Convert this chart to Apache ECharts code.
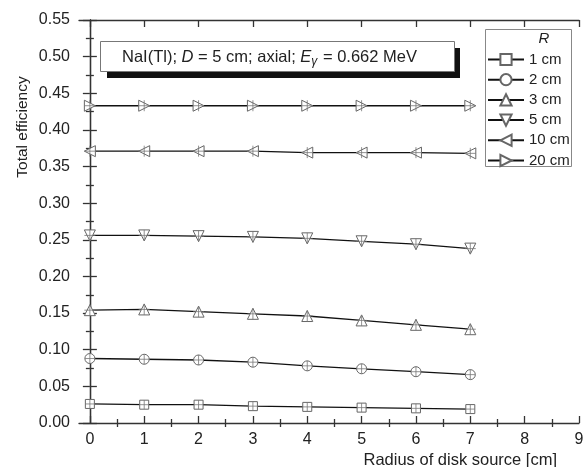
<!DOCTYPE html>
<html>
<head>
<meta charset="utf-8">
<script src="https://cdn.jsdelivr.net/npm/echarts@6/dist/echarts.min.js"></script>
<style>
  html, body { margin: 0; padding: 0; background: #fff; }
  #chart { width: 588px; height: 467px; }
</style>
</head>
<body>
<div id="chart"></div>
<script>
// radius of disk source [cm]
var radius = [0, 1, 2, 3, 4, 5, 6, 7];
var seriesNames = ['1 cm', '2 cm', '3 cm', '5 cm', '10 cm', '20 cm'];
// total efficiency for each R
var eff1 = [0.026, 0.025, 0.025, 0.023, 0.022, 0.021, 0.020, 0.019];
var eff2 = [0.088, 0.087, 0.086, 0.083, 0.078, 0.074, 0.070, 0.066];
var eff3 = [0.154, 0.155, 0.152, 0.149, 0.146, 0.140, 0.134, 0.128];
var eff5 = [0.256, 0.256, 0.255, 0.254, 0.252, 0.248, 0.244, 0.238];
var eff10 = [0.371, 0.371, 0.371, 0.371, 0.369, 0.369, 0.369, 0.368];
var eff20 = [0.433, 0.433, 0.433, 0.433, 0.433, 0.433, 0.433, 0.433];
var xTicks = [0, 1, 2, 3, 4, 5, 6, 7, 8, 9];
var xMinorTicks = [0.5, 1.5, 2.5, 3.5, 4.5, 5.5, 6.5, 7.5, 8.5];

var allEff = [eff1, eff2, eff3, eff5, eff10, eff20];
var symbols = ['rect', 'circle', 'triangle', 'triangle', 'triangle', 'triangle'];
var rotates = [0, 0, 0, 180, 90, -90];
var sizes = [9, 10, 11, 11, 11, 11];

var font = 'Liberation Sans, Arial, sans-serif';
var axisColor = '#333';

var pairs = function (ys) {
    var res = [];
    for (var i = 0; i < radius.length; i++) {
        res.push([radius[i], ys[i]]);
    }
    return res;
};

var series = [];
for (var k = 0; k < seriesNames.length; k++) {
    series.push({
        name: seriesNames[k],
        type: 'line',
        data: pairs(allEff[k]),
        symbol: symbols[k],
        symbolSize: sizes[k],
        symbolRotate: rotates[k],
        showAllSymbol: true,
        lineStyle: { color: '#111', width: 1.3 },
        itemStyle: { color: '#fff', borderColor: '#666', borderWidth: 1 },
        z: 3
    });
    // the little "+" drawn over every marker
    series.push({
        name: seriesNames[k] + ' +',
        type: 'scatter',
        data: pairs(allEff[k]),
        symbol: 'path://M5,0L5,10M0,5L10,5',
        symbolSize: sizes[k],
        silent: true,
        itemStyle: { color: 'none', borderColor: '#777', borderWidth: 1 },
        z: 4
    });
}

var xBase = {
    type: 'value',
    min: -0.2,
    max: 9,
    splitLine: { show: false },
    axisLine: { show: true, onZero: false, lineStyle: { color: axisColor, width: 1.3 } }
};

var option = {
    animation: false,
    backgroundColor: '#fff',
    textStyle: { fontFamily: font },
    grid: { left: 79, right: 9, top: 20, bottom: 44 },
    legend: {
        data: seriesNames,
        orient: 'vertical',
        left: 487,
        top: 52,
        padding: 0,
        itemWidth: 36,
        itemHeight: 14,
        itemGap: 5.2,
        selectedMode: false,
        textStyle: { fontFamily: font, fontSize: 15, color: '#222', lineHeight: 14 }
    },
    xAxis: [
        Object.assign({}, xBase, {
            position: 'bottom',
            axisTick: { inside: true, length: 7, customValues: xTicks, lineStyle: { color: axisColor, width: 1.3 } },
            axisLabel: { customValues: xTicks, fontFamily: font, fontSize: 16, color: '#222', margin: 9 }
        }),
        Object.assign({}, xBase, {
            position: 'bottom',
            axisLine: { show: false },
            axisTick: { inside: true, length: 4, customValues: xMinorTicks, lineStyle: { color: axisColor, width: 1.3 } },
            axisLabel: { show: false }
        }),
        Object.assign({}, xBase, {
            position: 'top',
            axisTick: { inside: true, length: 7, customValues: xTicks, lineStyle: { color: axisColor, width: 1.3 } },
            axisLabel: { show: false }
        }),
        Object.assign({}, xBase, {
            position: 'top',
            axisLine: { show: false },
            axisTick: { inside: true, length: 4, customValues: xMinorTicks, lineStyle: { color: axisColor, width: 1.3 } },
            axisLabel: { show: false }
        })
    ],
    yAxis: [
        {
            type: 'value',
            position: 'left',
            min: 0,
            max: 0.55,
            interval: 0.05,
            splitLine: { show: false },
            axisLine: { show: true, lineStyle: { color: axisColor, width: 1.3 } },
            axisTick: { inside: true, length: 7, lineStyle: { color: axisColor, width: 1.3 } },
            minorTick: { show: true, splitNumber: 2, length: 4, lineStyle: { color: axisColor, width: 1.3 } },
            axisLabel: {
                fontFamily: font, fontSize: 16, color: '#222', margin: 9,
                formatter: function (v) { return v.toFixed(2); }
            }
        },
        {
            type: 'value',
            position: 'right',
            min: 0,
            max: 0.55,
            interval: 0.05,
            splitLine: { show: false },
            axisLine: { show: true, lineStyle: { color: axisColor, width: 1.3 } },
            axisTick: { inside: true, length: 7, lineStyle: { color: axisColor, width: 1.3 } },
            minorTick: { show: true, splitNumber: 2, length: 4, lineStyle: { color: axisColor, width: 1.3 } },
            axisLabel: { show: false }
        }
    ],
    graphic: [
        // legend frame and title
        {
            type: 'rect', z: 1,
            shape: { x: 485.5, y: 29.5, width: 86, height: 137 },
            style: { fill: '#fff', stroke: '#888', lineWidth: 1 }
        },
        {
            type: 'text', z: 5, x: 544, y: 39,
            style: { text: 'R', fontFamily: font, fontSize: 15, fontStyle: 'italic', fill: '#222', align: 'center', verticalAlign: 'middle' }
        },
        // annotation box with its shadow
        {
            type: 'rect', z: 1,
            shape: { x: 107, y: 48, width: 353, height: 30 },
            style: { fill: '#111' }
        },
        {
            type: 'rect', z: 2,
            shape: { x: 100.5, y: 41.5, width: 354, height: 30 },
            style: { fill: '#fff', stroke: '#777', lineWidth: 1 }
        },
        {
            type: 'text', z: 5, x: 122, y: 57,
            style: {
                text: 'NaI(Tl); {i|D} = 5 cm; axial; {i|E}{sub|γ} = 0.662 MeV',
                fontFamily: font, fontSize: 16.5, fill: '#222', verticalAlign: 'middle',
                rich: {
                    i: { fontFamily: font, fontSize: 16.5, fontStyle: 'italic', fill: '#222' },
                    sub: { fontFamily: font, fontSize: 12, fontStyle: 'italic', fill: '#222', padding: [10, 1, 0, 0] }
                }
            }
        },
        // axis names
        {
            type: 'text', z: 5, x: 23, y: 127, rotation: Math.PI / 2,
            style: { text: 'Total efficiency', fontFamily: font, fontSize: 15.5, fill: '#222', align: 'center', verticalAlign: 'middle' }
        },
        {
            type: 'text', z: 5, x: 557, y: 460,
            style: { text: 'Radius of disk source [cm]', fontFamily: font, fontSize: 16.5, fill: '#222', align: 'right', verticalAlign: 'middle' }
        }
    ],
    series: series
};

var chart = echarts.init(document.getElementById('chart'));
chart.setOption(option);
</script>
</body>
</html>
